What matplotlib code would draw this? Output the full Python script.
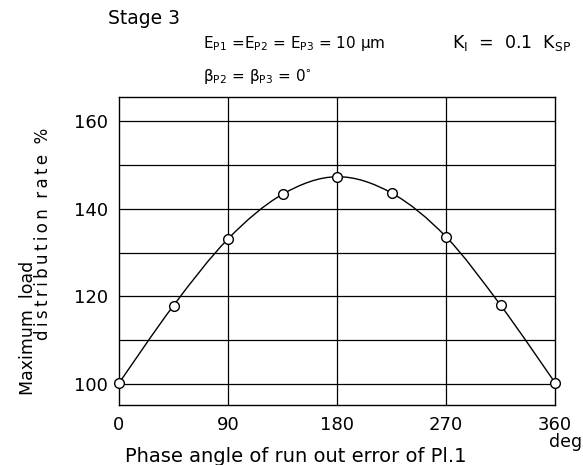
import numpy as np
import matplotlib.pyplot as plt
from matplotlib.path import Path
from matplotlib.patches import PathPatch

# data
phase = [0, 45, 90, 135, 180, 225, 270, 315, 360]
rate = [100.2, 117.9, 133.1, 143.3, 147.3, 143.6, 133.6, 118.0, 100.3]
xticks = [0, 90, 180, 270, 360]
yticks = [100, 120, 140, 160]

fig = plt.figure(figsize=(5.83, 4.65), dpi=100)
ax = fig.add_axes([119 / 583, 1 - 405 / 465, 436 / 583, 308 / 465])
ax.set_xlim(0, 360)
ax.set_ylim(95.2, 165.5)

# grid: every 90 deg, every 10 %
for gx in [90, 180, 270]:
    ax.axvline(gx, color="black", lw=0.9, zorder=1)
for gy in np.arange(100, 161, 10):
    ax.axhline(gy, color="black", lw=0.9, zorder=1)

# smooth curve through the points (Catmull-Rom as cubic Bezier)
pts = np.column_stack([phase, rate])
verts = [tuple(pts[0])]
codes = [Path.MOVETO]
for i in range(len(pts) - 1):
    p0 = pts[i - 1] if i > 0 else pts[i]
    p1 = pts[i]
    p2 = pts[i + 1]
    p3 = pts[i + 2] if i + 2 < len(pts) else pts[i + 1]
    c1 = p1 + (p2 - p0) / 6
    c2 = p2 - (p3 - p1) / 6
    verts += [tuple(c1), tuple(c2), tuple(p2)]
    codes += [Path.CURVE4] * 3
ax.add_patch(PathPatch(Path(verts, codes), fill=False, color="black", lw=1.0, zorder=2))
ax.plot(phase, rate, "o", ms=7, mfc="white", mec="black", mew=1.0, zorder=3, clip_on=False)

ax.set_xticks(xticks)
ax.set_yticks(yticks)
ax.tick_params(length=0, labelsize=13, pad=8)
for s in ax.spines.values():
    s.set_linewidth(1.0)

thin = "\u2009"
fig.text(108 / 583, 1 - 18 / 465, "Stage 3", fontsize=13.5, va="center")
fig.text(203 / 583, 1 - 43 / 465,
         r"E$_{\mathrm{P1}}$ =E$_{\mathrm{P2}}$ = E$_{\mathrm{P3}}$ = 10 μm",
         fontsize=11, va="center")
fig.text(452 / 583, 1 - 43 / 465, r"K$_{\mathrm{I}}$  =  0.1  K$_{\mathrm{SP}}$",
         fontsize=12.5, va="center")
fig.text(203 / 583, 1 - 77 / 465,
         r"β$_{\mathrm{P2}}$ = β$_{\mathrm{P3}}$ = 0$^{\circ}$",
         fontsize=11, va="center")
fig.text(28 / 583, 1 - 328 / 465, "Maximum  load", rotation=90,
         fontsize=12.5, ha="center", va="center")
fig.text(43 / 583, 1 - 234 / 465, thin.join("distribution") + "  " + thin.join("rate") + "  %",
         rotation=90, fontsize=12, ha="center", va="center")
fig.text(296 / 583, 1 - 456 / 465, "Phase angle of run out error of Pl.1",
         fontsize=14, ha="center", va="center")
fig.text(566 / 583, 1 - 442 / 465, "deg", fontsize=12.5, ha="center", va="center")

fig.savefig("out.png", dpi=100)
